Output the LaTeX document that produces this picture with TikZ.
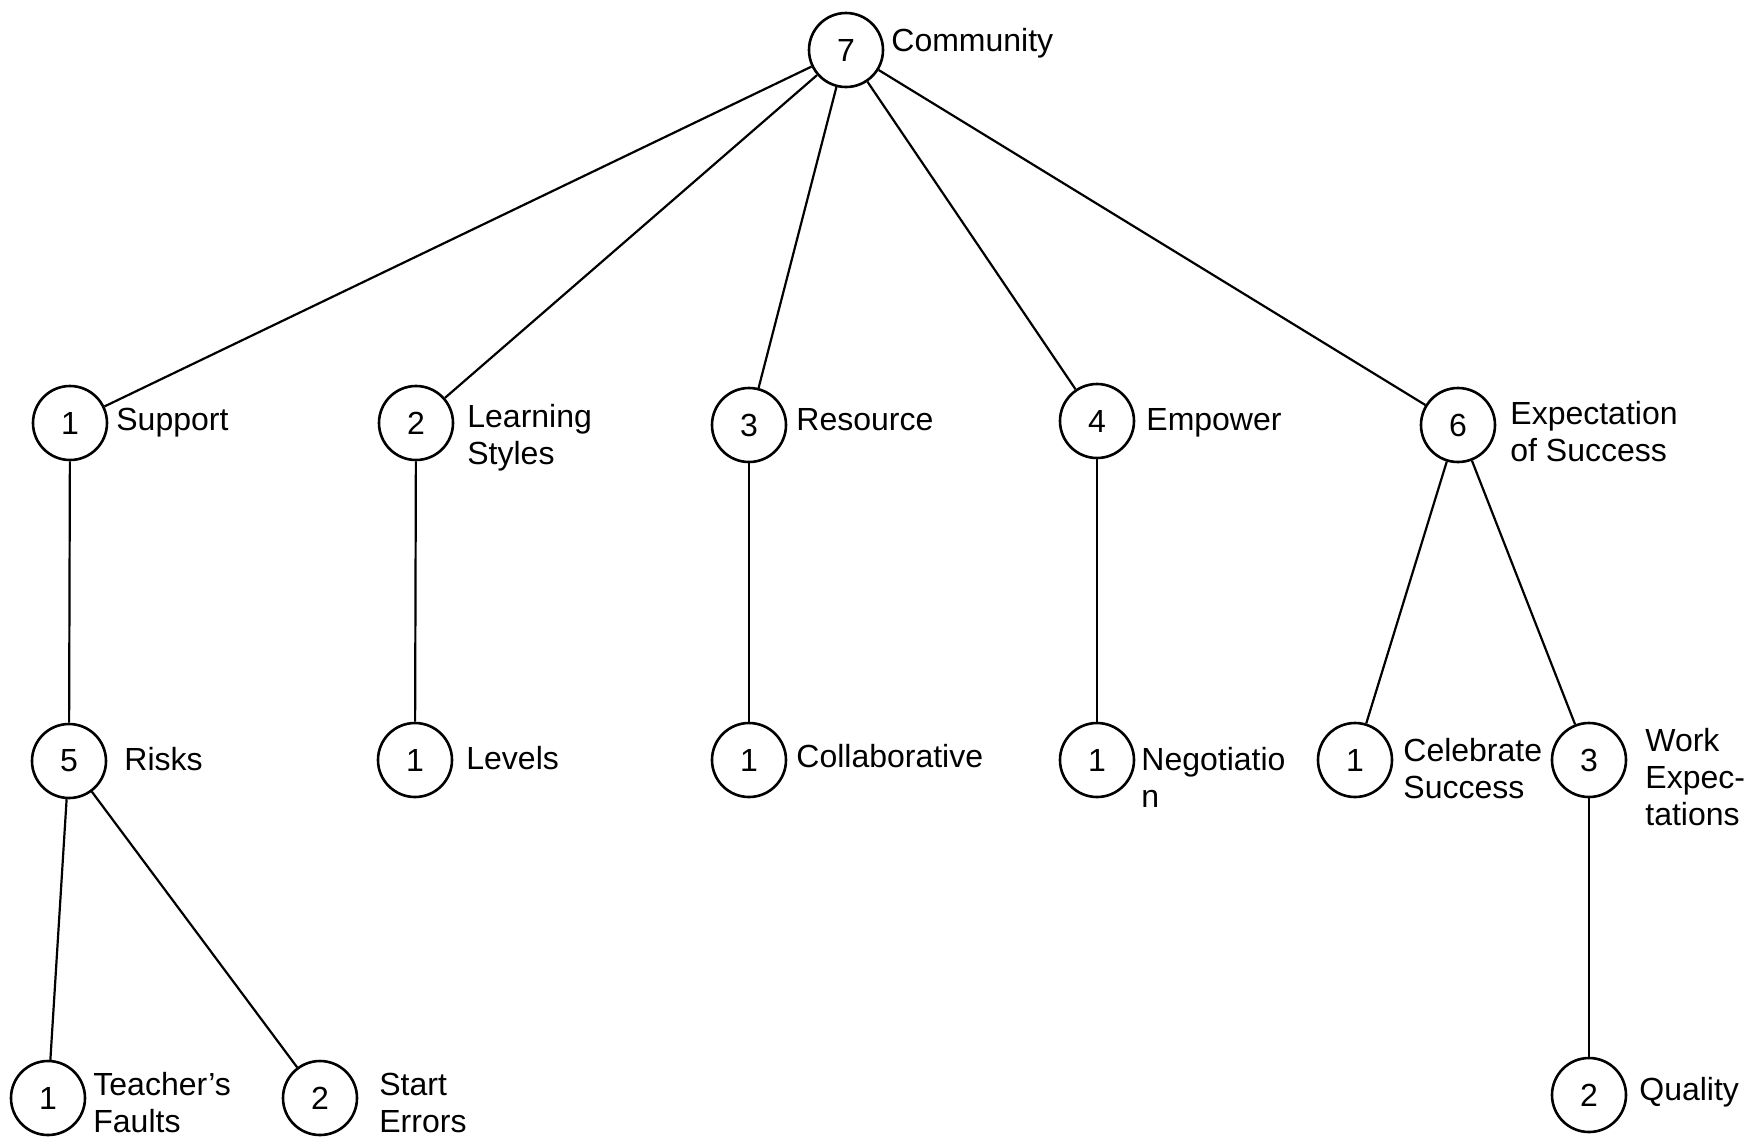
\documentclass[tikz,border=0pt]{standalone}
\usepackage{fontspec}
\setmainfont{Liberation Sans}
\begin{document}
\begin{tikzpicture}[x=0.5pt,y=-0.5pt,
  num/.style={draw,circle,line width=1.3pt,minimum size=37pt,inner sep=0pt,font=\fontsize{16}{18.5}\selectfont},
  lbl/.style={anchor=west,inner sep=0pt,align=left,font=\fontsize{16}{18.5}\selectfont},
  edge/.style={line width=1.1pt}]
\useasboundingbox (0,0) rectangle (1753,1142);
% circles
\node[num] (c7) at (846,50) {7};
\node[num] (s1) at (70,423) {1};
\node[num] (l2) at (416,423) {2};
\node[num] (r3) at (749,425) {3};
\node[num] (e4) at (1097,421) {4};
\node[num] (x6) at (1458,425) {6};
\node[num] (k5) at (69,761) {5};
\node[num] (lv) at (415,760) {1};
\node[num] (co) at (749,760) {1};
\node[num] (ne) at (1097,760) {1};
\node[num] (ce) at (1355,760) {1};
\node[num] (w3) at (1589,760) {3};
\node[num] (t1) at (48,1098) {1};
\node[num] (st) at (320,1098) {2};
\node[num] (q2) at (1589,1095) {2};
% labels
\node[lbl] (tc7) at (891,43) {Community};
\node[lbl] (ts1) at (116,423) {Support};
\node[lbl] (tl2) at (467,438) {Learning\\Styles};
\node[lbl] (tr3) at (796,420) {Resource};
\node[lbl] (te4) at (1146,423) {Empower};
\node[lbl] (tx6) at (1510,432) {Expectation\\of Success};
\node[lbl] (tk5) at (124,759) {Risks};
\node[lbl] (tlv) at (466,758) {Levels};
\node[lbl] (tco) at (796,756) {Collaborative};
\node[lbl] (tne) at (1141,777) {Negotiatio\\n};
\node[lbl] (tce) at (1403,769) {Celebrate\\Success};
\node[lbl] (tw3) at (1645,777) {Work\\Expec-\\tations};
\node[lbl] (tt1) at (93,1103) {Teacher's\\Faults};
\node[lbl] (tst) at (379,1103) {Start\\Errors};
\node[lbl] (tq2) at (1639,1092) {Quality};
% connectors
\draw[edge] (c7) -- (s1);
\draw[edge] (c7) -- (l2);
\draw[edge] (c7) -- (r3);
\draw[edge] (c7) -- (e4);
\draw[edge] (c7) -- (x6);
\draw[edge] (s1) -- (k5);
\draw[edge] (l2) -- (lv);
\draw[edge] (r3) -- (co);
\draw[edge] (e4) -- (ne);
\draw[edge] (x6) -- (ce);
\draw[edge] (x6) -- (w3);
\draw[edge] (k5) -- (t1);
\draw[edge] (k5) -- (st);
\draw[edge] (w3) -- (q2);
\end{tikzpicture}
\end{document}
